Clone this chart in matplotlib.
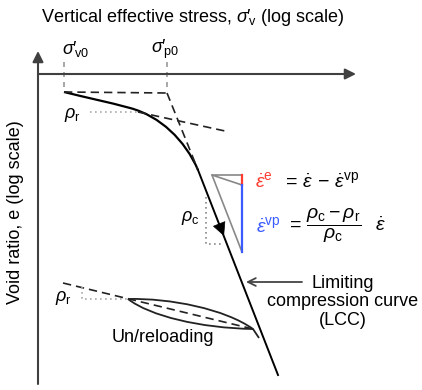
import matplotlib
matplotlib.use('Agg')
import matplotlib.pyplot as plt
from matplotlib.path import Path
from matplotlib.patches import PathPatch

plt.rcParams['font.family'] = ['Liberation Sans', 'DejaVu Sans']
plt.rcParams['mathtext.fontset'] = 'custom'
plt.rcParams['mathtext.rm'] = 'Liberation Sans'
plt.rcParams['mathtext.it'] = 'Liberation Sans:italic'
plt.rcParams['mathtext.bf'] = 'Liberation Sans:bold'

# schematic coordinates (drawing units, y grows downward)
sig_v0 = 64
sig_p0 = 167
e_top = 92

# limiting compression curve: straight line end points
lcc_x = [167, 278]
lcc_y = [93, 375]

# loading curve from the initial state onto the LCC (bezier control points)
load_x = [64, 86, 108, 130, 160, 185, 198]
load_y = [92, 97.5, 102, 108, 116, 140, 170]

# recompression tangent (slope rho_r) near the start
rr1_x = [138, 225]
rr1_y = [112, 131]

# un/reloading
unl_x = [63, 253]
unl_y = [283, 329]
upper_x = [128, 170, 225, 253]
upper_y = [299, 298, 309, 329]
lower_x = [128, 150, 200, 253, 259]
lower_y = [299, 316, 328, 329, 338]

fig = plt.figure(figsize=(4.22, 3.90), dpi=100)
ax = fig.add_axes([0, 0, 1, 1])
ax.set_xlim(0, 422)
ax.set_ylim(390, 0)
ax.axis('off')

axis_col = '#404040'
# axes with arrow heads
ax.annotate('', xy=(356, 74), xytext=(38, 74),
            arrowprops=dict(arrowstyle='-|>', color=axis_col, lw=1.5,
                            mutation_scale=16, shrinkA=0, shrinkB=0))
ax.annotate('', xy=(38, 51), xytext=(38, 384),
            arrowprops=dict(arrowstyle='-|>', color=axis_col, lw=1.5,
                            mutation_scale=16, shrinkA=0, shrinkB=0))

ax.text(193, 18, r"Vertical effective stress, $\sigma\prime_{\!\rm v}$ (log scale)",
        ha='center', va='center', fontsize=13)
ax.text(16, 212, 'Void ratio, e (log scale)',
        ha='center', va='center', rotation=90, fontsize=13)

# stress markers
for xs in (sig_v0, sig_p0):
    ax.plot([xs, xs], [62, e_top], color='#999999', lw=1.2, ls=(0, (3, 3)))
ax.text(76, 49, r"$\sigma\prime_{\!\rm v0}$", ha='center', va='center', fontsize=13)
ax.text(165, 49, r"$\sigma\prime_{\!\rm p0}$", ha='center', va='center', fontsize=13)

dash = (0, (5, 3))
ax.plot([sig_v0, sig_p0], [e_top, e_top + 1], color='#222222', lw=1.2, ls=dash)
ax.plot([lcc_x[0], 198], [lcc_y[0], 170], color='#222222', lw=1.2, ls=dash)
ax.plot(rr1_x, rr1_y, color='#222222', lw=1.2, ls=dash)

# loading curve + LCC
codes = [Path.MOVETO] + [Path.CURVE4] * 6
ax.add_patch(PathPatch(Path(list(zip(load_x, load_y)), codes),
                       fc='none', ec='black', lw=1.6))
ax.plot([198, lcc_x[1]], [170, lcc_y[1]], color='black', lw=1.4)
ax.annotate('', xy=(224, 236), xytext=(216, 216),
            arrowprops=dict(arrowstyle='-|>', color='black', lw=0.5,
                            mutation_scale=22, shrinkA=0, shrinkB=0))

# rho_r marker at the top
ax.plot([90, 138], [112, 112], color='#aaaaaa', lw=1.2, ls=(0, (1, 2)))
ax.text(72, 115, r'$\rho_{\rm r}$', ha='center', va='center', fontsize=13)

# rho_c marker
ax.plot([206, 206, 222], [197, 244, 244], color='#888888', lw=1.2, ls=(0, (1, 2)))
ax.text(190, 218, r'$\rho_{\rm c}$', ha='center', va='center', fontsize=13)

# strain-rate split triangle
ax.plot([242, 212, 242], [175, 175, 185], color='#888888', lw=1.2)
ax.plot([212, 242], [175, 252], color='#888888', lw=1.2)
ax.plot([242, 242], [175, 185], color='#ff3b30', lw=1.6)
ax.plot([242, 242], [185, 252], color='#3a5bff', lw=1.6)

ax.text(255, 181, r'$\dot{\varepsilon}^{\rm e}$', color='#ff3b30',
        ha='left', va='center', fontsize=14)
ax.text(282, 181, r'$=\,\dot{\varepsilon}\,-\,\dot{\varepsilon}^{\rm vp}$',
        ha='left', va='center', fontsize=14)
ax.text(256, 226, r'$\dot{\varepsilon}^{\rm vp}$', color='#3a5bff',
        ha='left', va='center', fontsize=14)
ax.text(286, 226, r'$=\,\dfrac{\rho_{\rm c}-\rho_{\rm r}}{\rho_{\rm c}}\;\;\;\dot{\varepsilon}$',
        ha='left', va='center', fontsize=14)

# un/reloading loop
ax.plot(unl_x, unl_y, color='#222222', lw=1.2, ls=dash)
ax.plot([82, 82, 128], [287, 299, 299], color='#aaaaaa', lw=1.2, ls=(0, (1, 2)))
ax.text(63, 298, r'$\rho_{\rm r}$', ha='center', va='center', fontsize=13)
ax.add_patch(PathPatch(Path(list(zip(upper_x, upper_y)),
                            [Path.MOVETO] + [Path.CURVE4] * 3),
                       fc='none', ec='#222222', lw=1.3))
ax.add_patch(PathPatch(Path(list(zip(lower_x, lower_y)),
                            [Path.MOVETO] + [Path.CURVE4] * 3 + [Path.LINETO]),
                       fc='none', ec='#222222', lw=1.3))
ax.text(163, 338, 'Un/reloading', ha='center', va='center', fontsize=13)

# LCC label
ax.annotate('', xy=(246, 282), xytext=(302, 282),
            arrowprops=dict(arrowstyle='->', color='#444444', lw=1.3,
                            mutation_scale=14, shrinkA=0, shrinkB=0))
ax.text(343, 302, 'Limiting\ncompression curve\n(LCC)', ha='center', va='center',
        fontsize=13, linespacing=1.15)

fig.savefig('out.png', dpi=100)
